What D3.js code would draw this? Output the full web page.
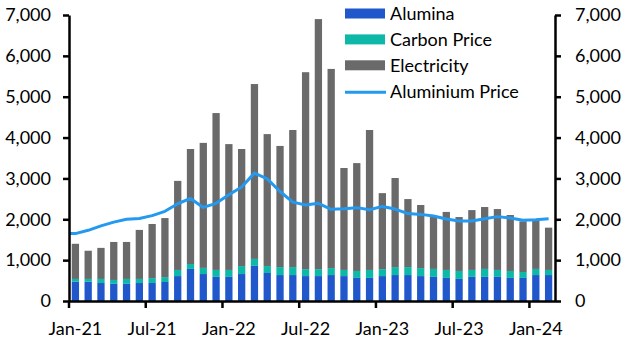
<!DOCTYPE html>
<html>
<head>
<meta charset="utf-8">
<script src="https://cdn.jsdelivr.net/npm/d3@7"></script>
<style>
  html, body { margin: 0; padding: 0; background: #fff; }
  svg { display: block; }
  text { font-family: Lato, "Noto Sans", sans-serif; fill: #000; }
</style>
</head>
<body>
<svg id="chart" width="628" height="355"></svg>
<script>
// ---- data ----
const months = ["Jan-21","Feb-21","Mar-21","Apr-21","May-21","Jun-21","Jul-21","Aug-21","Sep-21","Oct-21","Nov-21","Dec-21",
                "Jan-22","Feb-22","Mar-22","Apr-22","May-22","Jun-22","Jul-22","Aug-22","Sep-22","Oct-22","Nov-22","Dec-22",
                "Jan-23","Feb-23","Mar-23","Apr-23","May-23","Jun-23","Jul-23","Aug-23","Sep-23","Oct-23","Nov-23","Dec-23",
                "Jan-24","Feb-24"];
const alumina = [470,470,440,420,420,440,440,465,610,785,660,590,
                 590,660,860,685,635,635,610,610,635,610,565,565,
                 610,635,635,610,590,565,540,590,590,590,565,565,
                 635,635];
const carbonPrice = [70,70,100,95,120,100,120,120,150,120,150,170,
                     170,195,170,170,195,195,170,170,170,150,170,195,
                     170,195,195,195,195,195,195,170,195,170,170,145,
                     150,125];
const electricity = [860,690,760,930,905,1200,1325,1445,2180,2815,3060,3840,
                     3080,2865,4280,3230,2965,3355,4820,6120,4875,2495,2640,3425,
                     1860,2180,1665,1545,1275,1420,1320,1465,1515,1490,1370,1240,
                     1175,1035];
const aluminiumPrice = [1650,1730,1840,1930,2000,2020,2090,2195,2380,2510,2290,2390,
                        2600,2790,3130,2990,2680,2420,2350,2390,2245,2260,2285,2235,
                        2315,2250,2140,2120,2080,2005,1960,1960,2015,2065,2030,1975,
                        1990,2015];
const tickLabels = ["Jan-21","Jul-21","Jan-22","Jul-22","Jan-23","Jul-23","Jan-24"];
const yTicks = [0,1000,2000,3000,4000,5000,6000,7000];
const seriesNames = ["Alumina","Carbon Price","Electricity"];
const lineName = "Aluminium Price";
const colors = {"Alumina":"#2058CC","Carbon Price":"#0DB8A9","Electricity":"#6A6A6A","Aluminium Price":"#2399F0"};

// ---- layout ----
const svg = d3.select("#chart");
const margin = {left: 69, right: 73, top: 15, bottom: 54};
const W = 628, H = 355;
const x0 = margin.left, x1 = W - margin.right, yB = H - margin.bottom, yT = margin.top;

const x = d3.scaleBand().domain(months).range([x0, x1]).paddingInner(0.43).paddingOuter(0.215);
const y = d3.scaleLinear().domain([0, 7000]).range([yB, yT]);

const table = months.map((m, i) => ({month: m, "Alumina": alumina[i], "Carbon Price": carbonPrice[i], "Electricity": electricity[i]}));
const stack = d3.stack().keys(seriesNames)(table);

// bars
const gBars = svg.append("g");
stack.forEach(layer => {
  gBars.append("g").attr("fill", colors[layer.key])
    .selectAll("rect").data(layer).join("rect")
    .attr("x", d => x(d.data.month))
    .attr("width", x.bandwidth())
    .attr("y", d => y(d[1]))
    .attr("height", d => y(d[0]) - y(d[1]));
});

// line
const centre = m => x(m) + x.bandwidth() / 2;
const linePts = [{px: x.range()[0], v: aluminiumPrice[0]}]
  .concat(months.map((m, i) => ({px: centre(m), v: aluminiumPrice[i]})));
svg.append("path").datum(linePts)
  .attr("fill", "none").attr("stroke", colors[lineName]).attr("stroke-width", 3)
  .attr("stroke-linejoin", "round").attr("stroke-linecap", "butt")
  .attr("d", d3.line().x(d => d.px).y(d => y(d.v)));

// axes
const fmt = d3.format(",");
const styleAxis = g => {
  g.select(".domain").attr("stroke", "#000").attr("stroke-width", 2.5);
  g.selectAll(".tick line").attr("stroke", "#000").attr("stroke-width", 2.5);
  g.selectAll(".tick text").attr("font-size", 18).attr("fill", "#000");
  g.attr("font-family", null);
};

svg.append("g").attr("transform", `translate(${x0},0)`)
  .call(d3.axisLeft(y).tickValues(yTicks).tickFormat(fmt).tickSize(6).tickSizeOuter(0).tickPadding(12))
  .call(styleAxis);

svg.append("g").attr("transform", `translate(${x1},0)`)
  .call(d3.axisRight(y).tickValues(yTicks).tickFormat(fmt).tickSize(6).tickSizeOuter(0).tickPadding(14))
  .call(styleAxis);

const gx = svg.append("g").attr("transform", `translate(0,${yB})`)
  .call(d3.axisBottom(x).tickValues(tickLabels).tickSize(7).tickSizeOuter(0).tickPadding(14))
  .call(styleAxis);
gx.selectAll(".tick line").attr("transform", `translate(${-x.step() / 2},0)`);
gx.select(".domain").attr("d", `M${x0},0.5H${x1}`);

// legend
const legendItems = seriesNames.map(n => ({name: n, type: "rect"})).concat([{name: lineName, type: "line"}]);
const lg = svg.append("g").attr("transform", "translate(345,13.5)");
legendItems.forEach((it, i) => {
  const g = lg.append("g").attr("transform", `translate(0,${i * 25.9})`);
  if (it.type === "rect") {
    g.append("rect").attr("x", 0).attr("y", -5).attr("width", 40).attr("height", 10).attr("fill", colors[it.name]);
  } else {
    g.append("line").attr("x1", 0).attr("x2", 41).attr("y1", 1).attr("y2", 1)
      .attr("stroke", colors[it.name]).attr("stroke-width", 3);
  }
  g.append("text").attr("x", 45).attr("y", 0).attr("dy", "0.35em").attr("font-size", 18).text(it.name);
});
</script>
</body>
</html>
